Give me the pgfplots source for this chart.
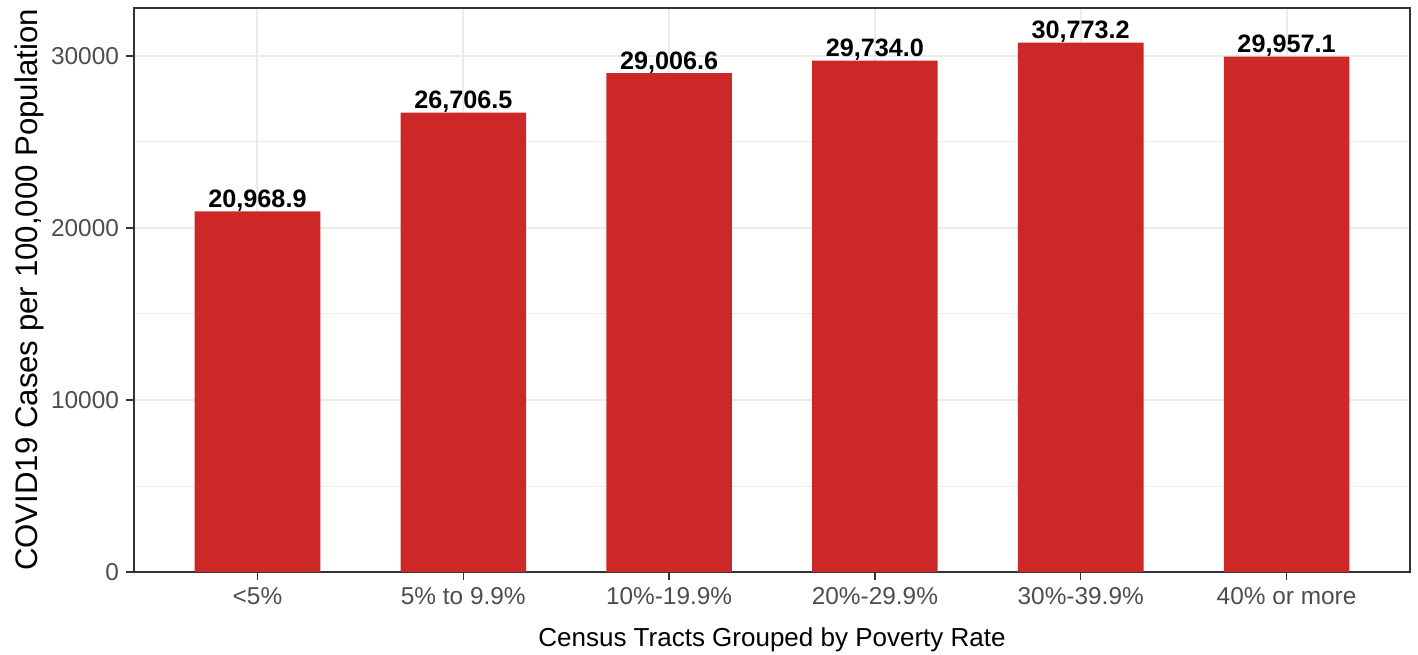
\documentclass[border=0pt]{standalone}
\usepackage{fontspec}
\setmainfont{Liberation Sans}
\usepackage{pgfplots}
\pgfplotsset{compat=1.18}
\definecolor{barred}{HTML}{CC2828}
\definecolor{gridc}{HTML}{EBEBEB}
\definecolor{tickc}{HTML}{4D4D4D}
\definecolor{framec}{HTML}{333333}
\begin{document}
\begin{tikzpicture}
\begin{axis}[
 width=638pt, height=282pt, scale only axis,
 xmin=0.4, xmax=6.6, ymin=0, ymax=32790,
 axis line style={framec, line width=0.7pt},
 ytick={0,10000,20000,30000},
 minor ytick={5000,15000,25000},
 scaled y ticks=false,
 xtick={1,2,3,4,5,6},
 xticklabels={{<5\%},{5\% to 9.9\%},{10\%-19.9\%},{20\%-29.9\%},{30\%-39.9\%},{40\% or more}},
 grid=both,
 major grid style={gridc, line width=1pt},
 minor grid style={gridc, line width=0.5pt},
 tick style={framec, line width=0.7pt},
 major tick length=4pt,
 minor tick length=0pt,
 tick align=outside,
 xtick pos=left, ytick pos=left,
 ticklabel style={font=\fontsize{12.2}{14}\selectfont, text=tickc},
 /pgf/number format/assume math mode=true,
 /pgf/number format/1000 sep={},
 xlabel={Census Tracts Grouped by Poverty Rate},
 ylabel={COVID19 Cases per 100,000 Population},
 xlabel style={font=\fontsize{13}{15}\selectfont, at={(axis description cs:0.5,-0.1312)}, anchor=base},
 ylabel style={font=\fontsize{15.6}{18}\selectfont, at={(axis description cs:-0.0760,0.5)}, anchor=base},
]
\addplot[ybar, bar width=0.61, fill=barred, draw=none,
  nodes near coords, point meta=explicit symbolic,
  every node near coord/.append style={font=\bfseries\fontsize{12.6}{14}\selectfont, text=black, anchor=base, yshift=2pt}]
 table[meta=label] {
x y label
1 20968.9 20{,}968.9
2 26706.5 26{,}706.5
3 29006.6 29{,}006.6
4 29734.0 29{,}734.0
5 30773.2 30{,}773.2
6 29957.1 29{,}957.1
};
\end{axis}
\path (current axis.south west) ++(-67pt,-41pt) coordinate (bbA);
\path (current axis.north east) ++(4pt,4pt) coordinate (bbB);
\pgfresetboundingbox
\useasboundingbox (bbA) rectangle (bbB);
\end{tikzpicture}
\end{document}
